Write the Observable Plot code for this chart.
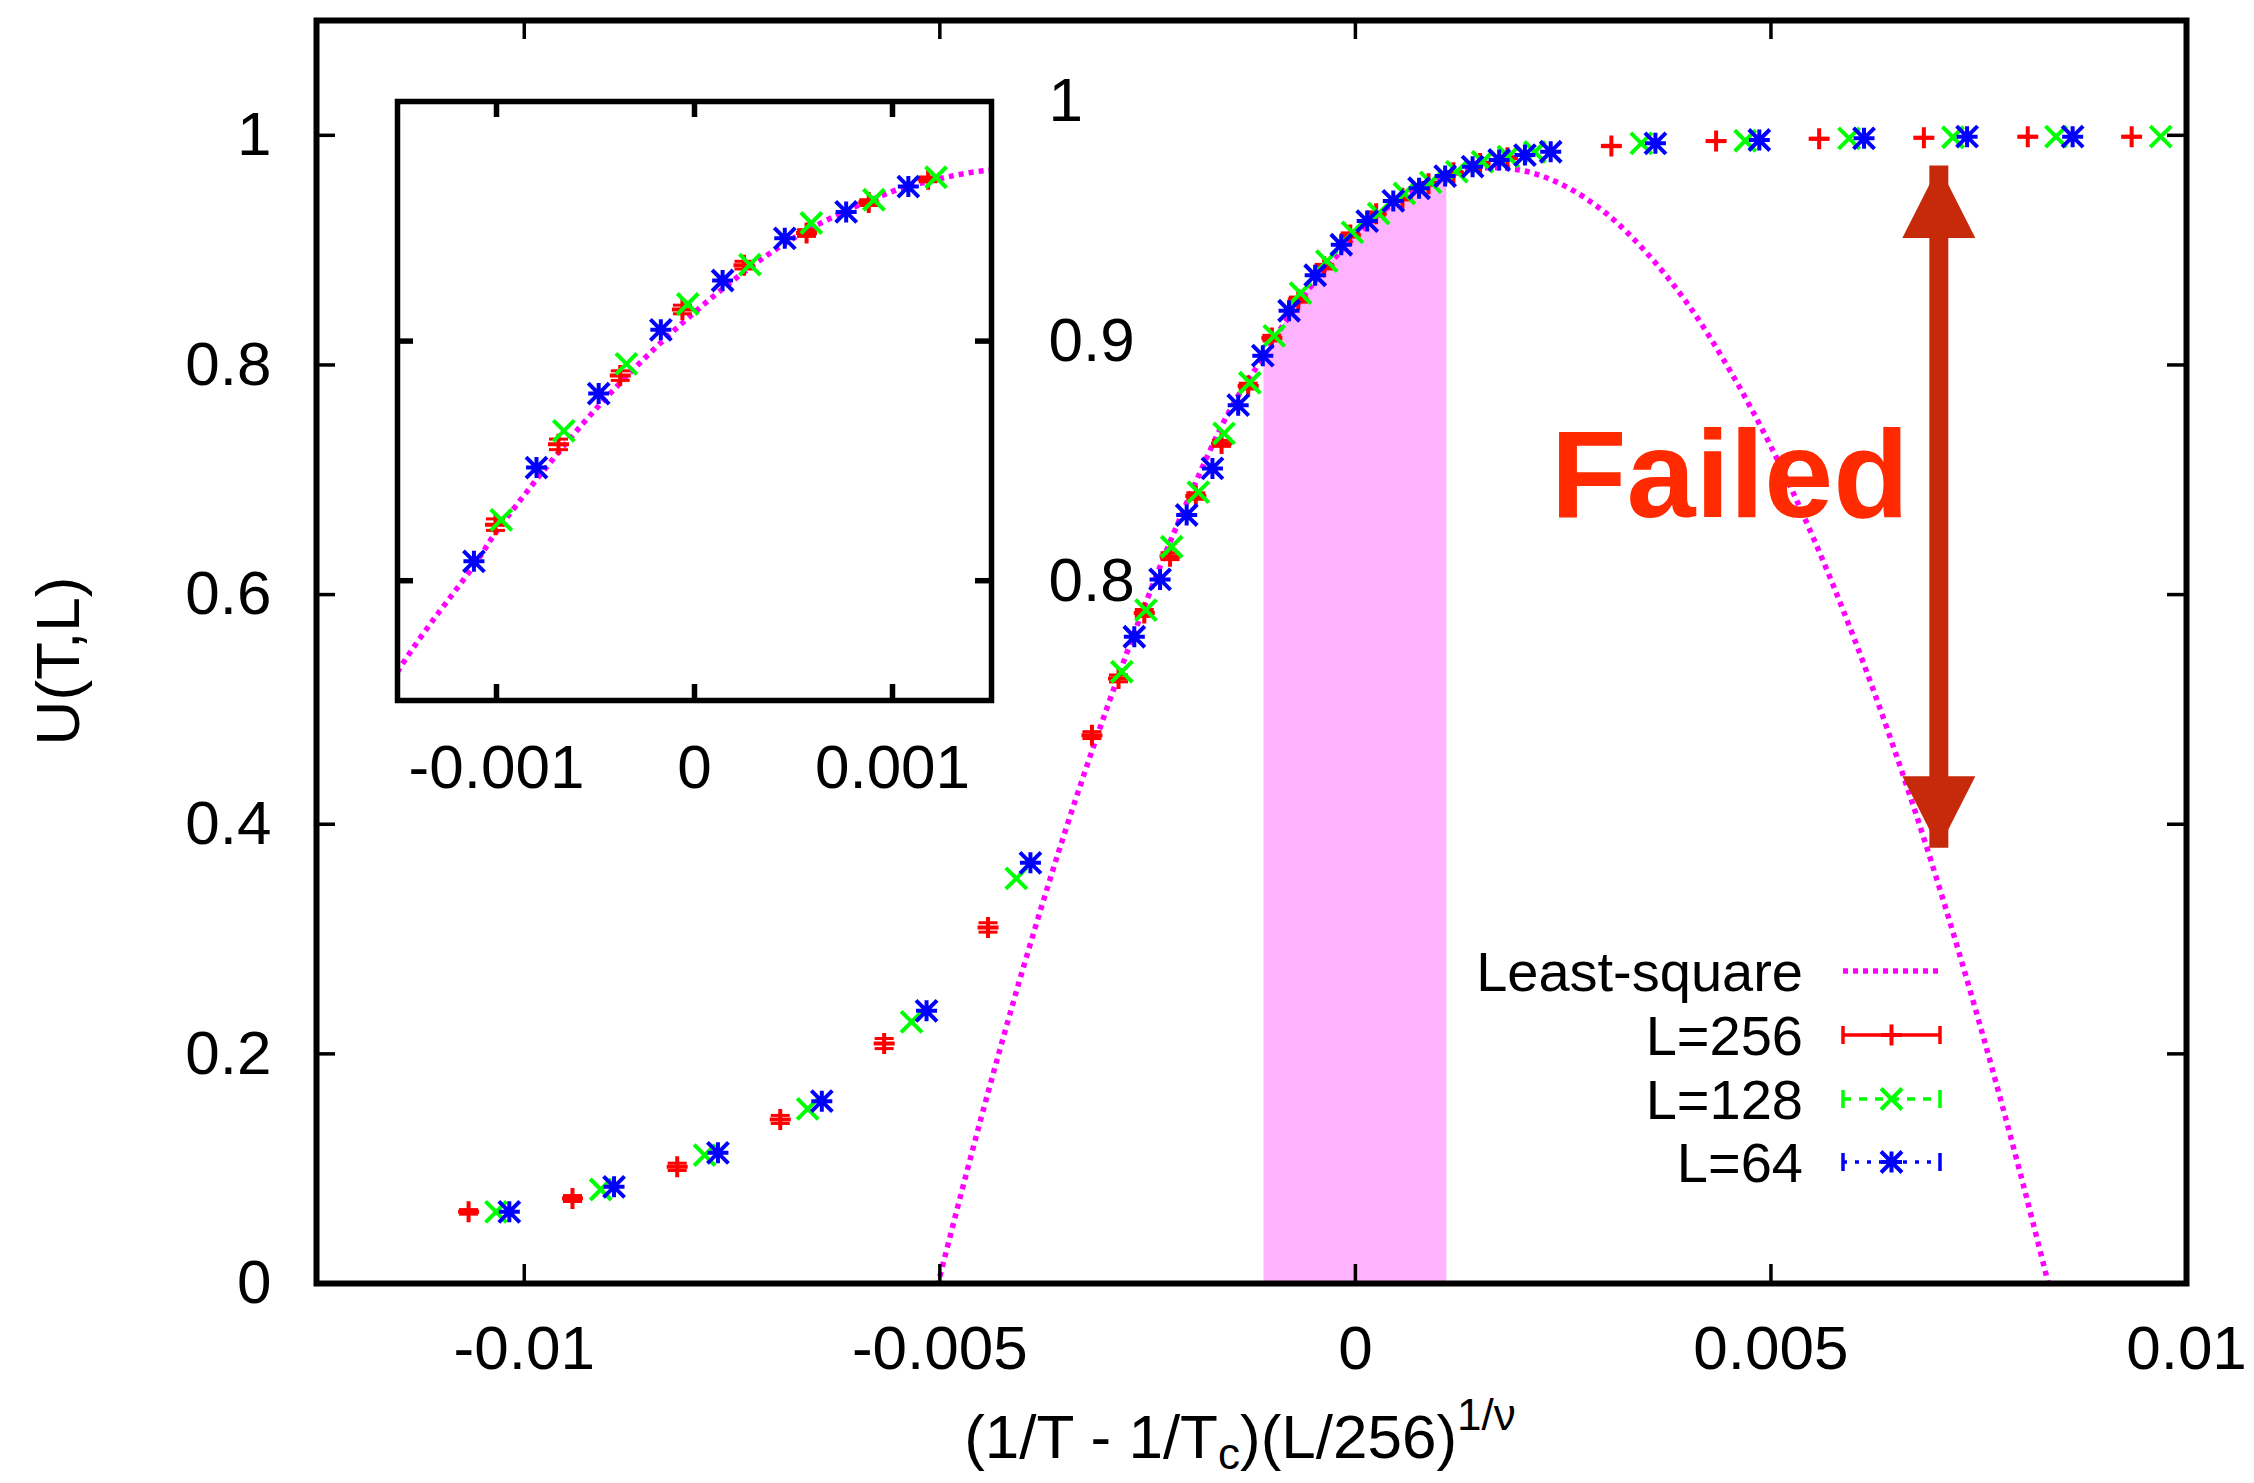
<!DOCTYPE html>
<html><head><meta charset="utf-8">
<script src="https://cdn.jsdelivr.net/npm/d3@7"></script>
<script src="https://cdn.jsdelivr.net/npm/@observablehq/plot@0.6"></script>
<style>
html,body{margin:0;padding:0;background:#fff;}
#wrap{position:relative;width:2254px;height:1483px;}
#wrap > svg{position:absolute;left:0;top:0;}
</style></head><body><div id="wrap"></div>
<script>
// ---------- data ----------
const xTicks = [-0.01, -0.005, 0, 0.005, 0.01];
const xTickLabels = ["-0.01", "-0.005", "0", "0.005", "0.01"];
const yTicks = [0, 0.2, 0.4, 0.6, 0.8, 1];
const yTickLabels = ["0", "0.2", "0.4", "0.6", "0.8", "1"];
const insetXTicks = [-0.001, 0, 0.001];
const insetXTickLabels = ["-0.001", "0", "0.001"];
const insetYTicks = [0.8, 0.9, 1];
const insetYTickLabels = ["0.8", "0.9", "1"];

// L=256
const x256 = [-0.01067, -0.00942, -0.00816, -0.00692, -0.00567, -0.00442, -0.00317, -0.00285, -0.00254, -0.00223, -0.00192, -0.00161, -0.00129, -0.001005, -0.000687, -0.000375, -0.000061, 0.00025, 0.000566, 0.00088, 0.00118, 0.0015, 0.00183, 0.00308, 0.00434, 0.00558, 0.00684, 0.00809, 0.00934];
const u256 = [0.0624, 0.0740, 0.1016, 0.1429, 0.2090, 0.3101, 0.4776, 0.527, 0.584, 0.6335, 0.6858, 0.7317, 0.7816, 0.8234, 0.8569, 0.8856, 0.9132, 0.9317, 0.9451, 0.9578, 0.9675, 0.9755, 0.9805, 0.9907, 0.995, 0.997, 0.9979, 0.9988, 0.9988];
const e256 = [0.002, 0.0026, 0.0032, 0.0035, 0.0044, 0.0041, 0.003, 0.003, 0.003, 0.003, 0.0028, 0.0026, 0.0025, 0.0024, 0.0022, 0.002, 0.0018, 0.0016, 0.0014, 0.0012, 0.001, 0.001, 0.0008, 0.0006, 0.0005, 0.0004, 0.0003, 0.0003, 0.0003];
// L=128
const x128 = [-0.01034, -0.00908, -0.00783, -0.00659, -0.00534, -0.00408, -0.00281, -0.00252, -0.00221, -0.00189, -0.00158, -0.00127, -0.000976, -0.00066, -0.000344, -0.000034, 0.00028, 0.00059, 0.000906, 0.00122, 0.00153, 0.00184, 0.00216, 0.00344, 0.00469, 0.00594, 0.00719, 0.00843, 0.00969];
const u128 = [0.0624, 0.0819, 0.1118, 0.1521, 0.2279, 0.3528, 0.5328, 0.5865, 0.6417, 0.6893, 0.7404, 0.7845, 0.8254, 0.8625, 0.8905, 0.9155, 0.9319, 0.9493, 0.959, 0.9684, 0.977, 0.9815, 0.9855, 0.993, 0.9953, 0.9974, 0.9983, 0.9988, 0.9988];
// L=64
const x64 = [-0.01018, -0.00892, -0.00767, -0.00642, -0.00516, -0.00391, -0.00266, -0.00235, -0.00203, -0.00172, -0.00141, -0.001114, -0.000798, -0.000484, -0.00017, 0.000142, 0.000456, 0.000766, 0.00108, 0.00141, 0.00173, 0.00204, 0.00235, 0.00361, 0.00486, 0.00612, 0.00736, 0.00863];
const u64 = [0.0624, 0.0842, 0.1138, 0.1588, 0.2375, 0.3664, 0.5633, 0.6132, 0.6693, 0.7099, 0.765, 0.8081, 0.8472, 0.8781, 0.9047, 0.9253, 0.9429, 0.9539, 0.9645, 0.9727, 0.9785, 0.9828, 0.9857, 0.993, 0.9959, 0.9974, 0.9988, 0.9988];

// least-square curve
const curveX = [-0.0052, -0.005, -0.0045, -0.004, -0.0035, -0.003, -0.0025, -0.002, -0.0015, -0.0011, -0.001, -0.0005, 0, 0.0005, 0.001, 0.0011, 0.0015, 0.002, 0.0025, 0.003, 0.0035, 0.004, 0.0045, 0.005, 0.0055, 0.006, 0.0065, 0.007, 0.0075, 0.008, 0.0085];
const curveU = [-0.053, 0.006, 0.145, 0.274, 0.392, 0.499, 0.597, 0.685, 0.762, 0.808, 0.8205, 0.8715, 0.912, 0.943, 0.9625, 0.965, 0.9714, 0.9695, 0.9566, 0.933, 0.898, 0.853, 0.796, 0.729, 0.651, 0.562, 0.462, 0.351, 0.229, 0.096, -0.047];

const bandRange = [-0.0011, 0.0011];     // shaded fitting window
const insetRange = [-0.00125, 0.00125];  // points shown in the inset
const legendLabels = ["Least-square", "L=256", "L=128", "L=64"];
const failedLabel = "Failed";
const failedAt = {x: 0.00235, u: 0.6675};
const arrowAt = {x: 0.00702, top: 0.9733, bottom: 0.379};

// ---------- styles ----------
const FONT = "Liberation Sans, Arial, Helvetica, sans-serif";
const C256 = "#ff0000", C128 = "#00ff00", C64 = "#0000ff", CFIT = "#ff00ff";
const CBAND = "#ffb3ff", CFAIL = "#ff2a00", CARROW = "#c62a0a";
const DOTS = "5,5";
const MR = 10.5, MW = 4;

const s256 = x256.map((x, i) => ({x, u: u256[i], e: e256[i]}));
const s128 = x128.map((x, i) => ({x, u: u128[i]}));
const s64 = x64.map((x, i) => ({x, u: u64[i]}));
const curvePts = curveX.map((x, i) => ({x, u: curveU[i]}));
const bandPts = curvePts.filter(p => p.x >= bandRange[0] && p.x <= bandRange[1]);
const inInset = p => p.x >= insetRange[0] && p.x <= insetRange[1];

const symPlus = {draw(c, s){const r = Math.sqrt(s/Math.PI); c.moveTo(-r,0); c.lineTo(r,0); c.moveTo(0,-r); c.lineTo(0,r);}};
const symTimes = {draw(c, s){const r = Math.sqrt(s/Math.PI); c.moveTo(-r,-r); c.lineTo(r,r); c.moveTo(-r,r); c.lineTo(r,-r);}};
const symStar = {draw(c, s){symPlus.draw(c, s); symTimes.draw(c, s);}};
const symCap = {draw(c, s){const r = Math.sqrt(s/Math.PI); c.moveTo(-r,0); c.lineTo(r,0);}};
const headUp = {draw(c){c.moveTo(0,0); c.lineTo(36.5,72); c.lineTo(-36.5,72); c.closePath();}};
const headDown = {draw(c){c.moveTo(0,0); c.lineTo(36.5,-72); c.lineTo(-36.5,-72); c.closePath();}};

function seriesMarks(filter) {
  const f = filter || (() => true);
  const red = s256.filter(f);
  return [
    Plot.ruleX(red, {x: "x", y1: d => d.u - d.e, y2: d => d.u + d.e, stroke: C256, strokeWidth: 3}),
    Plot.dot(red, {x: "x", y: d => d.u + d.e, symbol: symCap, r: 9.5, stroke: C256, strokeWidth: 3, fill: "none"}),
    Plot.dot(red, {x: "x", y: d => d.u - d.e, symbol: symCap, r: 9.5, stroke: C256, strokeWidth: 3, fill: "none"}),
    Plot.dot(red, {x: "x", y: "u", symbol: symPlus, r: MR, stroke: C256, strokeWidth: MW, fill: "none"}),
    Plot.dot(s128.filter(f), {x: "x", y: "u", symbol: symTimes, r: MR, stroke: C128, strokeWidth: MW, fill: "none"}),
    Plot.dot(s64.filter(f), {x: "x", y: "u", symbol: symStar, r: MR, stroke: C64, strokeWidth: MW, fill: "none"})
  ];
}

// ---------- main chart ----------
const W = 2254, H = 1483;
const mL = 316, mR = 68, mT = 20, mB = 200;
const fw = W - mL - mR, fh = H - mT - mB;
const TL = 19;

const main = Plot.plot({
  width: W, height: H,
  marginLeft: mL, marginRight: mR, marginTop: mT, marginBottom: mB,
  style: {fontFamily: FONT, background: "white"},
  x: {domain: [-0.0125, 0.01]},
  y: {domain: [0, 1.1]},
  marks: [
    Plot.areaY(bandPts, {x: "x", y: "u", fill: CBAND, curve: "catmull-rom"}),
    Plot.line(curvePts, {x: "x", y: "u", stroke: CFIT, strokeWidth: 5.5, strokeDasharray: DOTS, strokeLinecap: "butt", curve: "catmull-rom", clip: true}),
    ...seriesMarks(),
    Plot.ruleX([arrowAt], {x: "x", y1: "bottom", y2: "top", stroke: CARROW, strokeWidth: 19}),
    Plot.dot([arrowAt], {x: "x", y: "top", symbol: headUp, r: 5, fill: CARROW, stroke: "none"}),
    Plot.dot([arrowAt], {x: "x", y: "bottom", symbol: headDown, r: 5, fill: CARROW, stroke: "none"}),
    Plot.text([failedAt], {x: "x", y: "u", text: () => failedLabel, fill: CFAIL, fontSize: 124, fontWeight: "bold", textAnchor: "start", lineAnchor: "bottom"}),
    Plot.tickX(xTicks, {x: d => d, insetTop: fh - TL, stroke: "black", strokeWidth: 3.5}),
    Plot.tickX(xTicks, {x: d => d, insetBottom: fh - TL, stroke: "black", strokeWidth: 3.5}),
    Plot.tickY(yTicks, {y: d => d, insetRight: fw - TL, stroke: "black", strokeWidth: 3.5}),
    Plot.tickY(yTicks, {y: d => d, insetLeft: fw - TL, stroke: "black", strokeWidth: 3.5}),
    Plot.axisX({ticks: xTicks, tickFormat: d => xTickLabels[xTicks.indexOf(d)], tickSize: 0, tickPadding: 41, fontSize: 62, label: null}),
    Plot.axisY({ticks: yTicks, tickFormat: d => yTickLabels[yTicks.indexOf(d)], tickSize: 0, tickPadding: 45, fontSize: 62, label: null}),
    Plot.frame({stroke: "black", strokeWidth: 6})
  ]
});

// ---------- inset ----------
const iL = 397, iR = 2254 - 991, iT = 101, iB = 1483 - 700;
const ifw = W - iL - iR, ifh = H - iT - iB;
const ITL = 16;
const inset = Plot.plot({
  width: W, height: H,
  marginLeft: iL, marginRight: iR, marginTop: iT, marginBottom: iB,
  style: {fontFamily: FONT, background: "transparent"},
  x: {domain: [-0.0015, 0.0015]},
  y: {domain: [0.75, 1.0]},
  marks: [
    Plot.frame({fill: "white", stroke: "none"}),
    Plot.line(curvePts, {x: "x", y: "u", stroke: CFIT, strokeWidth: 5.5, strokeDasharray: DOTS, strokeLinecap: "butt", curve: "catmull-rom", clip: true}),
    ...seriesMarks(inInset),
    Plot.tickX(insetXTicks, {x: d => d, insetTop: ifh - ITL, stroke: "black", strokeWidth: 5.5}),
    Plot.tickX(insetXTicks, {x: d => d, insetBottom: ifh - ITL, stroke: "black", strokeWidth: 5.5}),
    Plot.tickY(insetYTicks.filter(d => d < 1), {y: d => d, insetRight: ifw - ITL, stroke: "black", strokeWidth: 5.5}),
    Plot.tickY(insetYTicks.filter(d => d < 1), {y: d => d, insetLeft: ifw - ITL, stroke: "black", strokeWidth: 5.5}),
    Plot.axisX({ticks: insetXTicks, tickFormat: d => insetXTickLabels[insetXTicks.indexOf(d)], tickSize: 0, tickPadding: 43, fontSize: 62, label: null}),
    Plot.axisY({anchor: "right", ticks: insetYTicks, tickFormat: d => insetYTickLabels[insetYTicks.indexOf(d)], tickSize: 0, tickPadding: 57, fontSize: 62, label: null}),
    Plot.frame({stroke: "black", strokeWidth: 5.5})
  ]
});

// ---------- titles and legend ----------
const ann = d3.create("svg").attr("width", W).attr("height", H)
  .attr("font-family", FONT).style("pointer-events", "none");

const xt = ann.append("text").attr("x", 1240).attr("y", 1458).attr("text-anchor", "middle").attr("font-size", 62);
xt.append("tspan").text("(1/T - 1/T");
xt.append("tspan").attr("font-size", 44).attr("dy", 11).text("c");
xt.append("tspan").attr("dy", -11).text(")(L/256)");
xt.append("tspan").attr("font-size", 44).attr("dy", -28).text("1/ν");

ann.append("text").attr("transform", "translate(57,661) rotate(-90)")
  .attr("text-anchor", "middle").attr("dy", "0.35em").attr("font-size", 62).text("U(T,L)");

const legRows = [971, 1035, 1099, 1162];
const lx1 = 1843, lx2 = 1940, lxm = (lx1 + lx2) / 2;
legendLabels.forEach((lab, i) => {
  ann.append("text").attr("x", 1803).attr("y", legRows[i]).attr("dy", "0.35em")
    .attr("text-anchor", "end").attr("font-size", 56).text(lab);
});
const lg = ann.append("g").attr("fill", "none");
lg.append("line").attr("x1", lx1).attr("x2", lx2).attr("y1", legRows[0]).attr("y2", legRows[0])
  .attr("stroke", CFIT).attr("stroke-width", 5.5).attr("stroke-dasharray", DOTS);
const legSeries = [
  {c: C256, dash: null, sym: "plus"},
  {c: C128, dash: "8,8", sym: "times"},
  {c: C64, dash: "4,8", sym: "star"}
];
legSeries.forEach((s, j) => {
  const y = legRows[j + 1];
  const g = lg.append("g").attr("stroke", s.c).attr("stroke-width", 3.5);
  const ln = g.append("line").attr("x1", lx1).attr("x2", lx2).attr("y1", y).attr("y2", y);
  if (s.dash) ln.attr("stroke-dasharray", s.dash);
  g.append("line").attr("x1", lx1).attr("x2", lx1).attr("y1", y - 9).attr("y2", y + 9);
  g.append("line").attr("x1", lx2).attr("x2", lx2).attr("y1", y - 9).attr("y2", y + 9);
  const r = MR;
  let p = "";
  if (s.sym !== "times") p += `M${lxm - r},${y}H${lxm + r}M${lxm},${y - r}V${y + r}`;
  if (s.sym !== "plus") p += `M${lxm - r},${y - r}L${lxm + r},${y + r}M${lxm - r},${y + r}L${lxm + r},${y - r}`;
  g.append("path").attr("d", p).attr("stroke-width", MW);
});

const wrap = document.getElementById("wrap");
wrap.appendChild(main);
wrap.appendChild(inset);
wrap.appendChild(ann.node());
</script></body></html>
